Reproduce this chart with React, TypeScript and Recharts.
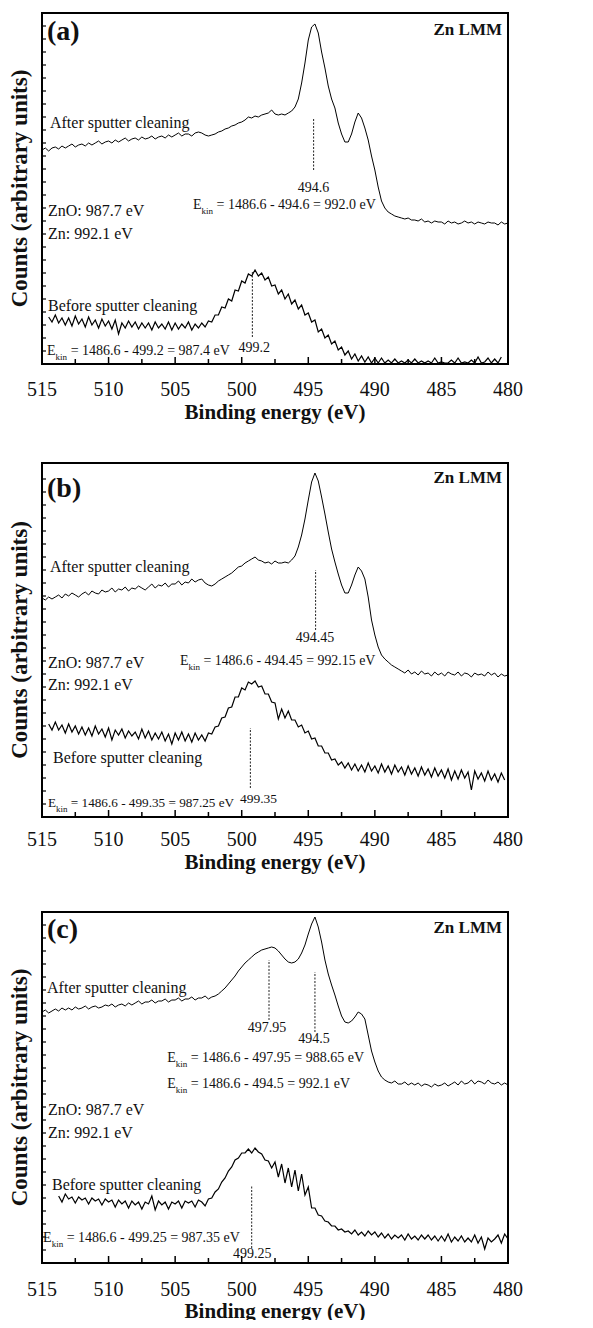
import React from 'react';
import { LineChart, Line, XAxis, YAxis, ReferenceLine, ReferenceDot } from 'recharts';

const FONT = '"Liberation Serif", "Times New Roman", Times, serif';
const INK = '#111';

// Binding-energy channels: 515 eV down to 480 eV, 0.25 eV step (141 channels)
const E_START = 515;
const E_STEP = 0.25;
const CHANNELS = 141;
const ENERGIES = Array.from({ length: CHANNELS }, (_, i) => E_START - i * E_STEP);

const E_MIN = 480;
const E_MAX = 515;
const CHART_W = 577;
const M_LEFT = 34;
const M_RIGHT = 77;
const PLOT_W = CHART_W - M_LEFT - M_RIGHT;
const PX_PER_EV = PLOT_W / (E_MAX - E_MIN);

const X_TICKS = [515, 512.5, 510, 507.5, 505, 502.5, 500, 497.5, 495, 492.5, 490, 487.5, 485, 482.5, 480];
const X_MAJOR = [515, 510, 505, 500, 495, 490, 485, 480];
const X_LABELS = ['515', '510', '505', '500', '495', '490', '485', '480'];
const Y_TICKS = Array.from({ length: 26 }, (_, i) => 13 * (i + 1));

// ---- (a) Zn LMM counts, one value per channel ----
const A_AFTER = [
  214, 216, 213, 216, 217, 215, 218, 216, 218, 220, 217, 219, 220, 218, 221, 219,
  221, 223, 220, 222, 223, 221, 224, 222, 224, 226, 223, 225, 226, 224, 227, 225,
  226, 228, 225, 227, 228, 226, 229, 227, 229, 231, 228, 230, 230, 228, 231, 232,
  231, 229, 228, 229, 230, 232, 233, 235, 236, 238, 239, 241, 242, 244, 247, 246,
  248, 247, 249, 250, 251, 254, 250, 249, 250, 249, 251, 253, 257, 265, 281, 301,
  324, 337, 340, 331, 312, 296, 278, 265, 256, 241, 230, 222, 222, 230, 242, 251,
  246, 236, 224, 208, 194, 177, 163, 156, 152, 150, 148, 147, 146, 145, 146, 144,
  144, 143, 145, 142, 143, 141, 143, 142, 142, 140, 143, 141, 142, 140, 141, 143,
  141, 142, 140, 142, 141, 140, 142, 141, 141, 139, 142, 140, 141,
];
const A_BEFORE = [
  null, null, 47, 42, 49, 41, 46, 39, 46, 38, 48, 40, 45, 37, 47, 39,
  44, 36, 45, 38, 43, 35, 44, 30, 41, 36, 43, 37, 42, 35, 41, 36,
  41, 34, 42, 36, 40, 35, 42, 34, 41, 35, 40, 36, 42, 34, 40, 36,
  41, 37, 43, 42, 49, 49, 57, 56, 65, 63, 74, 73, 83, 81, 90, 88,
  94, 88, 91, 84, 87, 78, 79, 70, 74, 65, 70, 60, 64, 55, 59, 49,
  51, 42, 44, 32, 35, 26, 29, 20, 23, 14, 17, 9, 13, 5, 10, 3,
  8, 2, 7, 1, 6, 1, 6, 1, 4, 1, 5, 1, 3, 1, 4, 1,
  5, 1, 3, 1, 3, 1, 6, 1, 2, 1, 1, 4, 1, 6, 1, 2,
  1, 4, 1, 7, 1, 2, 6, 1, 5, 1, 7, null, null,
];

// ---- (b) ----
const B_AFTER = [
  219, 217, 220, 218, 220, 222, 219, 223, 221, 224, 222, 220, 223, 225, 222, 226,
  224, 223, 227, 225, 226, 229, 225, 228, 227, 230, 226, 229, 228, 231, 229, 227,
  230, 233, 229, 232, 231, 234, 230, 233, 233, 236, 232, 235, 234, 238, 235, 237,
  238, 234, 232, 231, 233, 236, 238, 240, 242, 244, 247, 250, 251, 254, 256, 258,
  260, 257, 256, 254, 255, 253, 256, 254, 254, 255, 254, 257, 261, 270, 282, 298,
  317, 335, 344, 336, 320, 303, 285, 268, 255, 243, 232, 224, 224, 232, 242, 250,
  246, 238, 220, 197, 182, 170, 162, 158, 155, 152, 150, 148, 146, 144, 147, 143,
  145, 142, 146, 143, 144, 141, 145, 142, 144, 141, 145, 143, 142, 145, 141, 144,
  143, 140, 144, 142, 143, 141, 145, 142, 144, 140, 143, 141, 142,
];
const B_BEFORE = [
  null, null, 93, 87, 95, 87, 92, 84, 93, 85, 91, 83, 90, 82, 89, 81,
  91, 83, 88, 80, 89, 77, 87, 82, 88, 79, 86, 81, 85, 78, 88, 79,
  86, 77, 84, 78, 85, 76, 83, 73, 84, 77, 85, 76, 83, 75, 84, 77,
  82, 76, 84, 83, 90, 91, 99, 100, 109, 110, 120, 120, 129, 127, 135, 133,
  136, 130, 131, 123, 123, 115, 114, 98, 108, 99, 106, 97, 97, 90, 92, 84,
  86, 78, 79, 71, 71, 64, 64, 57, 58, 52, 55, 49, 54, 47, 53, 46,
  52, 45, 54, 46, 51, 44, 53, 45, 51, 43, 52, 45, 50, 42, 51, 43,
  49, 41, 50, 42, 48, 40, 49, 41, 47, 39, 48, 37, 46, 38, 47, 39,
  45, 27, 46, 38, 44, 36, 46, 37, 43, 35, 44, 37, null,
];

// ---- (c) ----
const C_AFTER = [
  251, 253, 250, 252, 254, 252, 255, 253, 255, 253, 256, 254, 255, 257, 254, 256,
  257, 255, 256, 258, 257, 259, 256, 258, 259, 257, 260, 258, 260, 262, 259, 261,
  261, 263, 260, 262, 262, 264, 261, 263, 263, 265, 262, 264, 264, 266, 263, 265,
  265, 267, 264, 266, 267, 269, 272, 275, 279, 283, 287, 292, 296, 300, 303, 306,
  309, 311, 313, 314, 315, 316, 315, 312, 308, 304, 301, 300, 301, 304, 310, 318,
  329, 339, 346, 336, 321, 303, 289, 278, 268, 257, 247, 241, 240, 242, 246, 251,
  249, 244, 228, 212, 201, 192, 186, 183, 181, 180, 182, 179, 179, 181, 178, 180,
  178, 180, 177, 179, 178, 176, 179, 177, 178, 180, 177, 179, 181, 178, 182, 179,
  180, 183, 179, 182, 181, 179, 183, 180, 179, 181, 178, 180, 178,
];
const C_BEFORE = [
  null, null, null, null, null, 67, 61, 69, 64, 66, 60, 66, 63, 65, 59, 65,
  62, 64, 58, 64, 61, 63, 56, 63, 59, 62, 55, 62, 58, 61, 54, 61,
  59, 67, 53, 62, 58, 61, 54, 61, 59, 62, 55, 62, 60, 62, 56, 63,
  61, 57, 64, 65, 71, 74, 81, 85, 92, 96, 103, 105, 110, 110, 114, 110,
  115, 111, 109, 103, 102, 95, 101, 86, 99, 80, 95, 76, 93, 72, 89, 68,
  76, 55, 55, 48, 47, 42, 41, 37, 37, 33, 34, 31, 32, 29, 33, 28,
  31, 27, 32, 28, 31, 26, 30, 25, 29, 24, 28, 25, 28, 23, 29, 24,
  27, 23, 28, 24, 28, 23, 27, 22, 27, 22, 29, 21, 26, 22, 27, 21,
  25, 21, 28, 20, 26, 14, 25, 21, 24, 28, 20, 29, 24,
];

type Note = {
  e: number;
  v: number;
  text: string;
  size: number;
  anchor?: 'start' | 'middle' | 'end';
  bold?: boolean;
  kin?: boolean;
};
type Dash = { e: number; from: number; to: number };

type PanelCfg = {
  tag: string;
  chartH: number;
  top: number;
  plotH: number;
  tickDy: number;
  titleDy: number;
  after: (number | null)[];
  before: (number | null)[];
  notes: Note[];
  dashes: Dash[];
};

const common = (tagText: string, tagV: number, zn: number, znoV: number, znV: number): Note[] => [
  { e: 514.62, v: tagV, text: tagText, size: 28, bold: true },
  { e: 480.45, v: zn, text: 'Zn LMM', size: 17, bold: true, anchor: 'end' },
  { e: 514.55, v: znoV, text: 'ZnO: 987.7 eV', size: 16 },
  { e: 514.55, v: znV, text: 'Zn: 992.1 eV', size: 16 },
];

const PANELS: PanelCfg[] = [
  {
    tag: 'a',
    chartH: 450,
    top: 5,
    plotH: 351,
    tickDy: 32,
    titleDy: 55,
    after: A_AFTER,
    before: A_BEFORE,
    notes: [
      ...common('(a)', 324, 329, 148, 125),
      { e: 514.4, v: 236, text: 'After sputter cleaning', size: 16 },
      { e: 494.6, v: 172, text: '494.6', size: 14, anchor: 'middle' },
      { e: 503.66, v: 155, text: ' = 1486.6 - 494.6 = 992.0 eV', size: 14, kin: true },
      { e: 514.55, v: 53, text: 'Before sputter cleaning', size: 16 },
      { e: 499.05, v: 12, text: '499.2', size: 14, anchor: 'middle' },
      { e: 514.62, v: 9, text: ' = 1486.6 - 499.2 = 987.4 eV', size: 14, kin: true },
    ],
    dashes: [
      { e: 494.6, from: 194, to: 246 },
      { e: 499.2, from: 27, to: 92 },
    ],
  },
  {
    tag: 'b',
    chartH: 450,
    top: 5,
    plotH: 354,
    tickDy: 29,
    titleDy: 52,
    after: B_AFTER,
    before: B_BEFORE,
    notes: [
      ...common('(b)', 320, 334, 149, 127),
      { e: 514.4, v: 245, text: 'After sputter cleaning', size: 16 },
      { e: 494.5, v: 175, text: '494.45', size: 14, anchor: 'middle' },
      { e: 504.64, v: 152, text: ' = 1486.6 - 494.45 = 992.15 eV', size: 13.9, kin: true },
      { e: 514.17, v: 54, text: 'Before sputter cleaning', size: 16 },
      { e: 498.74, v: 14, text: '499.35', size: 13.5, anchor: 'middle' },
      { e: 514.55, v: 10, text: ' = 1486.6 - 499.35 = 987.25 eV', size: 13.2, kin: true },
    ],
    dashes: [
      { e: 494.45, from: 187, to: 247 },
      { e: 499.35, from: 29, to: 89 },
    ],
  },
  {
    tag: 'c',
    chartH: 420,
    top: 4,
    plotH: 351,
    tickDy: 33,
    titleDy: 55,
    after: C_AFTER,
    before: C_BEFORE,
    notes: [
      ...common('(c)', 325, 330, 148, 125),
      { e: 514.62, v: 270, text: 'After sputter cleaning', size: 16 },
      { e: 498.1, v: 231, text: '497.95', size: 14, anchor: 'middle' },
      { e: 494.57, v: 220, text: '494.5', size: 14, anchor: 'middle' },
      { e: 505.6, v: 201, text: ' = 1486.6 - 497.95 = 988.65 eV', size: 14, kin: true },
      { e: 505.6, v: 175, text: ' = 1486.6 - 494.5 = 992.1 eV', size: 14, kin: true },
      { e: 514.25, v: 73, text: 'Before sputter cleaning', size: 16 },
      { e: 499.2, v: 5, text: '499.25', size: 14, anchor: 'middle' },
      { e: 514.92, v: 21, text: ' = 1486.6 - 499.25 = 987.35 eV', size: 14, kin: true },
    ],
    dashes: [
      { e: 497.95, from: 243, to: 303 },
      { e: 494.5, from: 231, to: 291 },
      { e: 499.25, from: 15, to: 78 },
    ],
  },
];

// Tick on the energy axis: a short inward mark plus the label for whole 5 eV steps
function XTickMark(props: any) {
  const { x, y, payload, labelDy } = props;
  const idx = X_MAJOR.indexOf(payload.value);
  const len = idx >= 0 ? 7 : 5;
  return (
    <g>
      <rect x={x - 0.75} y={y - len} width={1.5} height={len} fill="#000" />
      {idx >= 0 && (
        <text x={x} y={y + labelDy} textAnchor="middle" fontFamily={FONT} fontSize={20} fill={INK}>
          {X_LABELS[idx]}
        </text>
      )}
    </g>
  );
}

function noteLabel(n: Note) {
  return (p: any) => {
    const vb = p.viewBox;
    if (!vb) return null;
    return (
      <text
        x={vb.x}
        y={vb.y}
        textAnchor={n.anchor ?? 'start'}
        fontFamily={FONT}
        fontSize={n.size}
        fontWeight={n.bold ? 700 : 400}
        fill={INK}
      >
        {n.kin ? (
          <>
            <tspan>E</tspan>
            <tspan fontSize={9} dy={5}>kin</tspan>
            <tspan dy={-5}>{n.text}</tspan>
          </>
        ) : (
          n.text
        )}
      </text>
    );
  };
}

type Seg = [{ x: number; y: number }, { x: number; y: number }];

function Panel({ cfg }: { cfg: PanelCfg }) {
  const rows = ENERGIES.map((e, i) => ({ e, after: cfg.after[i], before: cfg.before[i] }));
  const xAxisH = cfg.chartH - cfg.top - cfg.plotH;
  const yTickEnd = E_MAX - 4 / PX_PER_EV;
  const H = cfg.plotH;

  // inward ticks on the counts axis
  const yTicks: Seg[] = Y_TICKS.filter((t) => t < H).map((t) => [
    { x: E_MAX, y: t },
    { x: yTickEnd, y: t },
  ]);

  return (
    <div style={{ position: 'relative', width: CHART_W, height: cfg.chartH }}>
      <LineChart
        width={CHART_W}
        height={cfg.chartH}
        data={rows}
        margin={{ top: cfg.top, right: M_RIGHT, bottom: 0, left: 0 }}
      >
        <XAxis
          xAxisId="b"
          dataKey="e"
          type="number"
          domain={[E_MIN, E_MAX]}
          reversed
          allowDataOverflow
          ticks={X_TICKS}
          interval={0}
          tickSize={0}
          tickMargin={0}
          tickLine={false}
          axisLine={{ stroke: '#000', strokeWidth: 2 }}
          height={xAxisH}
          tick={(t: any) => <XTickMark {...t} labelDy={cfg.tickDy} />}
          label={{
            content: (l: any) => {
              const vb = l.viewBox;
              if (!vb) return null;
              return (
                <text
                  x={vb.x + vb.width / 2}
                  y={vb.y + cfg.titleDy}
                  textAnchor="middle"
                  fontFamily={FONT}
                  fontSize={21}
                  fontWeight={700}
                  fill={INK}
                >
                  Binding energy (eV)
                </text>
              );
            },
          }}
        />
        <YAxis
          yAxisId="l"
          type="number"
          domain={[0, H]}
          allowDataOverflow
          width={M_LEFT}
          tick={false}
          tickLine={false}
          axisLine={{ stroke: '#000', strokeWidth: 2 }}
          label={{
            content: (l: any) => {
              const vb = l.viewBox;
              if (!vb) return null;
              const cy = vb.y + vb.height / 2;
              return (
                <text
                  x={19}
                  y={cy}
                  transform={`rotate(-90 19 ${cy})`}
                  textAnchor="middle"
                  fontFamily={FONT}
                  fontSize={23}
                  fontWeight={700}
                  fill={INK}
                >
                  Counts (arbitrary units)
                </text>
              );
            },
          }}
        />
        {yTicks.map((s, i) => (
          <ReferenceLine
            key={`yt${i}`}
            xAxisId="b"
            yAxisId="l"
            segment={s}
            stroke="#000"
            strokeWidth={1.2}
            ifOverflow="visible"
          />
        ))}
        <Line
          xAxisId="b"
          yAxisId="l"
          type="linear"
          dataKey="after"
          stroke="#000"
          strokeWidth={1}
          dot={false}
          activeDot={false}
          isAnimationActive={false}
        />
        <Line
          xAxisId="b"
          yAxisId="l"
          type="linear"
          dataKey="before"
          stroke="#000"
          strokeWidth={1.2}
          dot={false}
          activeDot={false}
          isAnimationActive={false}
        />
        {cfg.dashes.map((d, i) => (
          <ReferenceLine
            key={`d${i}`}
            xAxisId="b"
            yAxisId="l"
            segment={[
              { x: d.e, y: d.from },
              { x: d.e, y: d.to },
            ]}
            stroke="#222"
            strokeWidth={1}
            strokeDasharray="2 1.5"
            ifOverflow="visible"
          />
        ))}
        {cfg.notes.map((n, i) => (
          <ReferenceDot
            key={`n${i}`}
            xAxisId="b"
            yAxisId="l"
            x={n.e}
            y={n.v}
            r={0}
            fill="none"
            stroke="none"
            ifOverflow="visible"
            label={noteLabel(n)}
          />
        ))}
      </LineChart>
      {/* plot box outline */}
      <svg
        width={CHART_W}
        height={cfg.chartH}
        style={{ position: 'absolute', left: 0, top: 0, pointerEvents: 'none' }}
      >
        <rect x={M_LEFT} y={cfg.top} width={PLOT_W} height={H} fill="none" stroke="#000" strokeWidth={2} />
      </svg>
    </div>
  );
}

export default function App() {
  return (
    <div style={{ width: CHART_W, height: 1320, marginBottom: -8, background: '#fff' }}>
      {PANELS.map((p) => (
        <Panel key={p.tag} cfg={p} />
      ))}
    </div>
  );
}
